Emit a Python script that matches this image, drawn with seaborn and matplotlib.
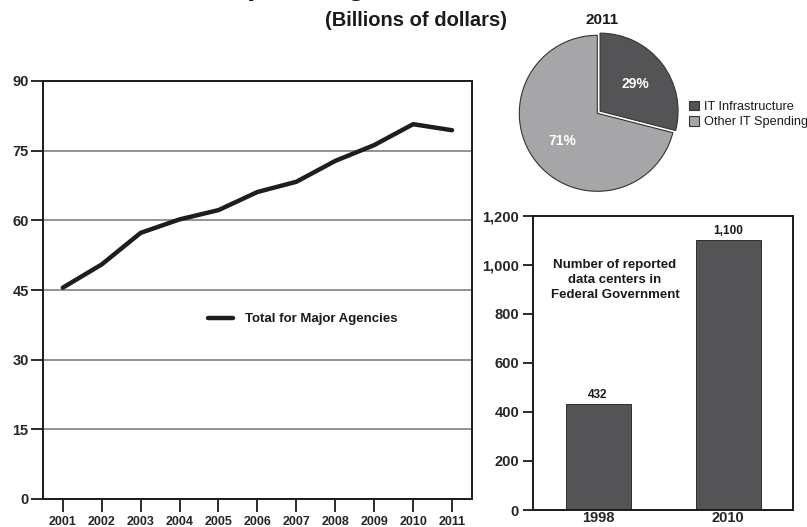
import pandas as pd
import matplotlib
matplotlib.use('Agg')
import matplotlib.pyplot as plt
import seaborn as sns

# Data
years = [2001, 2002, 2003, 2004, 2005, 2006, 2007, 2008, 2009, 2010, 2011]
spending = [45.5, 50.5, 57.3, 60.2, 62.2, 66.1, 68.3, 72.8, 76.2, 80.7, 79.4]
left_yticks = [0, 15, 30, 45, 60, 75, 90]

pie_labels = ['IT Infrastructure', 'Other IT Spending']
pie_shares = [29, 71]

dc_years = ['1998', '2010']
dc_counts = [432, 1100]
bar_yticks = [0, 200, 400, 600, 800, 1000, 1200]

sns.set_theme(style='white')
plt.rcParams['font.family'] = ['Liberation Sans', 'DejaVu Sans']
plt.rcParams['text.color'] = '#1a1a1a'

DARK = '#545456'
LIGHT = '#a6a6a9'
W, H = 807, 527

fig = plt.figure(figsize=(8.07, 5.27), dpi=100)

def box(x0, y0, x1, y1):
    # pixel box (top-left origin) -> figure fraction
    return [x0 / W, 1 - y1 / H, (x1 - x0) / W, (y1 - y0) / H]

# Line chart
ax = fig.add_axes(box(43.3, 81, 472.3, 499))
df_line = pd.DataFrame({'Year': years, 'Spending': spending})
sns.lineplot(x='Year', y='Spending', data=df_line, ax=ax, color='#1e1e1e',
             linewidth=3.2, label='Total for Major Agencies')
ax.set_xlim(2000.5, 2011.52)
ax.set_ylim(0, 90)
ax.set_xticks(years)
ax.set_yticks(left_yticks)
ax.set_xlabel('')
ax.set_ylabel('')
ax.grid(axis='y', color='#808080', linewidth=1.2)
ax.set_axisbelow(True)
for s in ax.spines.values():
    s.set_color('#1a1a1a')
    s.set_linewidth(1.4)
ax.tick_params(axis='x', direction='out', length=9, width=1.3, color='#1a1a1a',
               labelsize=9, pad=3, bottom=True)
ax.tick_params(axis='y', direction='out', length=9, width=1.3, color='#1a1a1a',
               labelsize=10.5, pad=1.5, left=True)
for lab in ax.get_xticklabels() + ax.get_yticklabels():
    lab.set_fontweight('bold')
ax.legend(loc='center left', bbox_to_anchor=(208 / W, 1 - 319 / H),
          bbox_transform=fig.transFigure, frameon=False, borderpad=0,
          borderaxespad=0, handlelength=1.9, handletextpad=0.9,
          prop={'weight': 'bold', 'size': 9.5})

# Pie chart
axp = fig.add_axes(box(597.3 - 78, 113.3 - 78, 597.3 + 78, 113.3 + 78))
wedges, texts, autotexts = axp.pie(
    pie_shares, colors=[DARK, LIGHT], startangle=90, counterclock=False,
    explode=[0.045, 0], autopct=lambda p: f'{p:.0f}%', pctdistance=0.57,
    wedgeprops={'edgecolor': '#333333', 'linewidth': 0.8},
    textprops={'color': 'white', 'fontweight': 'bold', 'fontsize': 10})
axp.set_xlim(-1.0, 1.0)
axp.set_ylim(-1.0, 1.0)
axp.set_aspect('equal')
axp.axis('off')
fig.legend(wedges, pie_labels, loc='upper left',
           bbox_to_anchor=(689 / W, 1 - 101 / H), frameon=False, borderpad=0,
           borderaxespad=0, handlelength=0.75, handleheight=0.75,
           handletextpad=0.4, labelspacing=0.25, fontsize=9.2)

# Bar chart
axb = fig.add_axes(box(533, 215.7, 793, 510))
df_bar = pd.DataFrame({'Year': dc_years, 'Count': dc_counts})
sns.barplot(x='Year', y='Count', data=df_bar, ax=axb, color=DARK, width=0.5,
            edgecolor='#1a1a1a', linewidth=0.6, saturation=1)
axb.set_xlim(-0.5, 1.5)
axb.set_ylim(0, 1200)
axb.set_yticks(bar_yticks)
axb.set_yticklabels([f'{v:,}' for v in bar_yticks])
axb.set_xlabel('')
axb.set_ylabel('')
for s in axb.spines.values():
    s.set_color('#1a1a1a')
    s.set_linewidth(1.4)
axb.tick_params(axis='y', direction='out', length=7, width=1.3, color='#1a1a1a',
                labelsize=10.5, pad=3, left=True)
axb.tick_params(axis='x', length=0, labelsize=10.5, pad=1)
for lab in axb.get_xticklabels() + axb.get_yticklabels():
    lab.set_fontweight('bold')
for i, v in enumerate(dc_counts):
    axb.text(i, v + 12, f'{v:,}', ha='center', va='bottom', fontsize=8.5,
             fontweight='bold')
axb.text(0.13, 1000 - 62, 'Number of reported\ndata centers in\nFederal Government',
         ha='center', va='center', fontsize=9.5, fontweight='bold',
         linespacing=1.35)

# Titles
fig.text(191 / W, 1 + 6 / H, 'IT Spending Trends', ha='left', va='baseline',
         fontsize=22, fontweight='bold')
fig.text(416 / W, 1 - 21 / H, '(Billions of dollars)', ha='center', va='center',
         fontsize=14.5, fontweight='bold')
fig.text(602 / W, 1 - 20 / H, '2011', ha='center', va='center', fontsize=11,
         fontweight='bold')

fig.savefig('out.png', dpi=100)
